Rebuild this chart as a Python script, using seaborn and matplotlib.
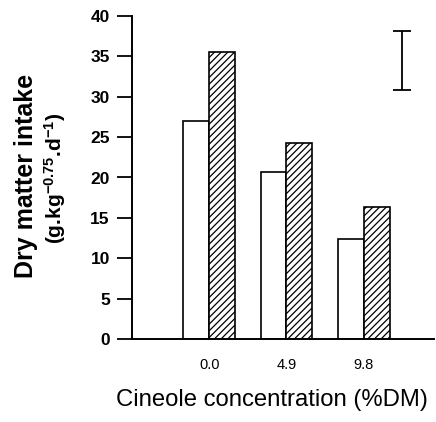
import matplotlib
matplotlib.use('Agg')
import matplotlib.pyplot as plt
import seaborn as sns
import pandas as pd

# Values
concentrations = ['0.0', '4.9', '9.8']
diets = ['Diet 1', 'Diet 2']
intake_diet1 = [27.0, 20.7, 12.4]
intake_diet2 = [35.6, 24.3, 16.3]
lsd_low, lsd_high = 30.8, 38.1
lsd_x = 2.5

df = pd.DataFrame({
    'conc': concentrations * 2,
    'diet': [diets[0]] * 3 + [diets[1]] * 3,
    'intake': intake_diet1 + intake_diet2,
})

sns.set_theme(style='ticks')
plt.rcParams['font.family'] = ['Liberation Sans', 'DejaVu Sans']
plt.rcParams['text.color'] = 'black'
plt.rcParams['mathtext.fontset'] = 'custom'
plt.rcParams['mathtext.rm'] = 'Liberation Sans:bold'
plt.rcParams['mathtext.bf'] = 'Liberation Sans:bold'
plt.rcParams['mathtext.default'] = 'bf'
plt.rcParams['hatch.linewidth'] = 0.9
plt.rcParams['hatch.color'] = 'black'

fig = plt.figure(figsize=(4.36, 4.22), dpi=100, facecolor='white')
ax = fig.add_axes([132 / 436, 1 - 339 / 422, 302 / 436, 323 / 422])

sns.barplot(data=df, x='conc', y='intake', hue='diet', order=concentrations,
            hue_order=diets, palette=['white', 'white'], width=0.67,
            edgecolor='black', linewidth=1.2, legend=False, ax=ax)
for bar in ax.containers[1]:
    bar.set_hatch('/////')

# LSD bar
ax.errorbar(lsd_x, (lsd_low + lsd_high) / 2, yerr=(lsd_high - lsd_low) / 2,
            fmt='none', ecolor='black', elinewidth=1.3, capsize=6.5, capthick=1.3)

ax.set_xlim(-1.0, 2.91)
ax.set_ylim(0, 40)
ax.set_yticks(range(0, 41, 5))
ax.set_xlabel('')
ax.set_ylabel('')
sns.despine(ax=ax)
for s in ['left', 'bottom']:
    ax.spines[s].set_linewidth(1.4)
    ax.spines[s].set_color('black')
ax.tick_params(axis='y', length=11, width=1.3, pad=5, labelsize=12.5,
               colors='black', labelcolor='black')
for t in ax.get_yticklabels():
    t.set_fontweight('bold')
ax.tick_params(axis='x', length=0, pad=14, labelsize=10.5, labelcolor='black')

fig.text(26 / 436, 1 - 176 / 422, 'Dry matter intake', rotation=90,
         ha='center', va='center', fontsize=18, fontweight='bold', color='black')
fig.text(55 / 436, 1 - 178 / 422, r'(g.kg$^{-0.75}$.d$^{-1}$)', rotation=90,
         ha='center', va='center', fontsize=15, fontweight='bold', color='black')
fig.text(116 / 436, 1 - 406 / 422, 'Cineole concentration (%DM)',
         ha='left', va='baseline', fontsize=17.2, color='black')

fig.savefig('out.png', dpi=100, facecolor='white')
